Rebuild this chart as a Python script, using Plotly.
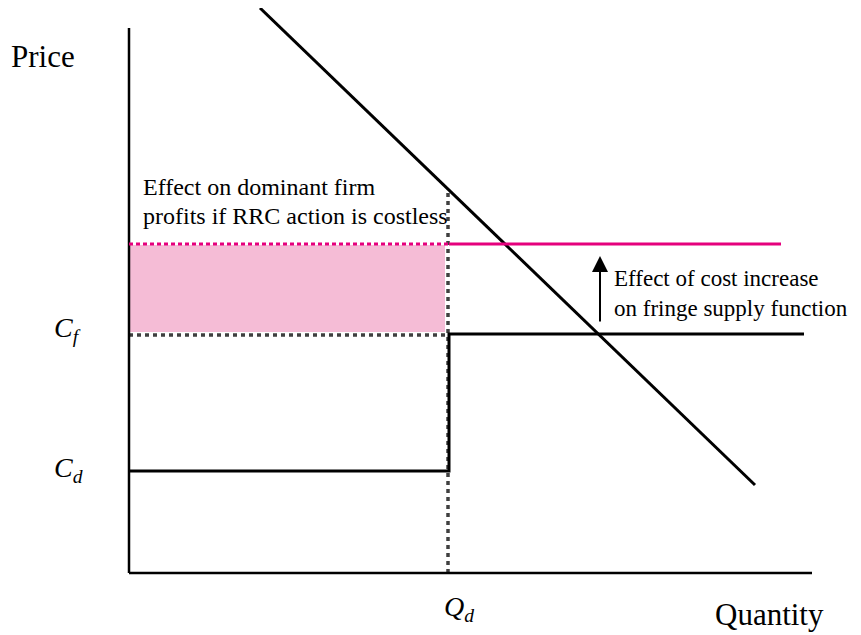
import plotly.graph_objects as go

# ---- data (units: quantity / price, origin at the axes corner) ----
axis_q_end = 683
axis_p_top = 545
demand_q = [131, 626]
demand_p = [565, 88]
Qd = 320
Qd_price_on_demand = 384
Cd = 102
Cf = 239
Cf_raised = 329
fringe_q_end = 675
raised_q_end = 652
arrow_q = 471
arrow_p = [250, 317]

labels_axis = {"price": "Price", "quantity": "Quantity"}

FONT = "Liberation Serif"
BLACK = "#000000"
GRAY = "#404040"
MAGENTA = "#E5007D"
PINK = "#F5BCD6"

fig = go.Figure()

def line(x, y, color, width, dash="solid"):
    fig.add_trace(go.Scatter(x=x, y=y, mode="lines", line=dict(color=color, width=width, dash=dash),
                             hoverinfo="skip", showlegend=False))

# pink profit rectangle
fig.add_trace(go.Scatter(x=[1, Qd - 4, Qd - 4, 1, 1],
                         y=[Cf + 2, Cf + 2, Cf_raised - 1, Cf_raised - 1, Cf + 2],
                         mode="lines", fill="toself", fillcolor=PINK,
                         line=dict(width=0, color=PINK), hoverinfo="skip", showlegend=False))

# gray dotted guides
line([0, Qd], [Cf - 1, Cf - 1], GRAY, 3.5, dash="4px,4px")
line([Qd - 1, Qd - 1], [0, Qd_price_on_demand], GRAY, 3.5, dash="4px,4px")

# axes
line([0, axis_q_end], [0, 0], BLACK, 2.5)
line([0, 0], [0, axis_p_top], BLACK, 2.5)

# dominant/fringe supply step
line([0, Qd, Qd, fringe_q_end], [Cd, Cd, Cf, Cf], BLACK, 3)

# demand
line(demand_q, demand_p, BLACK, 3)

# raised fringe supply (magenta)
line([0, Qd], [Cf_raised, Cf_raised], MAGENTA, 3, dash="4px,3px")
line([Qd, raised_q_end], [Cf_raised, Cf_raised], MAGENTA, 3)

anns = []
def text(x, y, t, size, xanchor="left"):
    anns.append(dict(x=x, y=y, xref="x", yref="y", text=t, showarrow=False,
                     xanchor=xanchor, yanchor="middle",
                     font=dict(family=FONT, size=size, color=BLACK)))

text(-120, 517, labels_axis["price"], 31)
text(584, -41, labels_axis["quantity"], 31)
text(12, 386, "Effect on dominant firm", 24)
text(12, 357, "profits if RRC action is costless", 24)
text(483, 295, "Effect of cost increase", 23)
text(483, 265, "on fringe supply function", 23)
text(-77, 244, "<i>C</i><sub><i>f</i></sub>", 28)
text(-77, 104, "<i>C</i><sub><i>d</i></sub>", 28)
text(313, -35, "<i>Q</i><sub><i>d</i></sub>", 28)

anns.append(dict(x=arrow_q, y=arrow_p[1], ax=arrow_q, ay=arrow_p[0], xref="x", yref="y",
                 axref="x", ayref="y", showarrow=True, arrowhead=2, arrowsize=1.6,
                 arrowwidth=2, arrowcolor=BLACK, text=""))

# page body has an 8px margin: shrink the figure by 8px and shift ranges accordingly
fig.update_layout(
    width=853, height=627, margin=dict(l=0, r=0, t=0, b=0),
    paper_bgcolor="white", plot_bgcolor="white",
    xaxis=dict(range=[-121, 732], visible=False, fixedrange=True),
    yaxis=dict(range=[-62, 565], visible=False, fixedrange=True),
    annotations=anns,
)

fig.write_html("out.html")
